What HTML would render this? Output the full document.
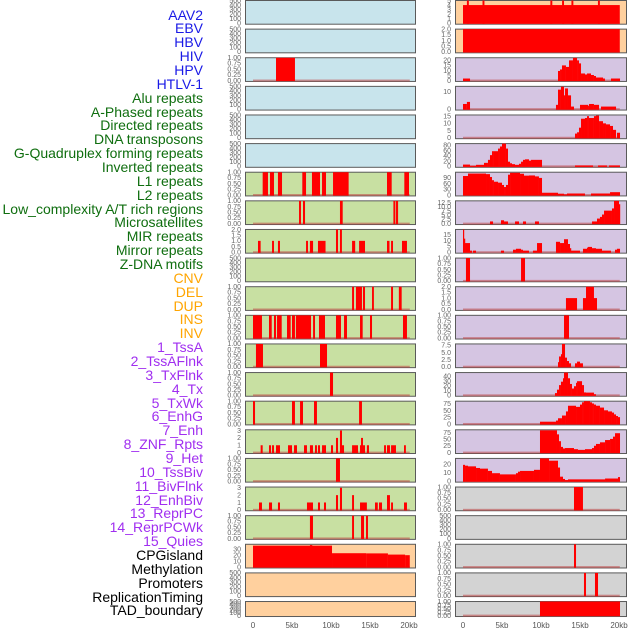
<!DOCTYPE html>
<html><head><meta charset="utf-8">
<style>
html,body{margin:0;padding:0;background:#fff;}
#wrap{position:relative;width:630px;height:630px;overflow:hidden;font-family:"Liberation Sans",sans-serif;}
.lbl{position:absolute;right:427px;font-size:14px;line-height:14px;white-space:nowrap;}
svg{position:absolute;left:0;top:0;}
</style></head>
<body>
<div id="wrap">
<svg id="chart" width="630" height="630"></svg>
</div>
<script>
// ---- track labels ----
const labelNames = ["AAV2","EBV","HBV","HIV","HPV","HTLV-1","Alu repeats","A-Phased repeats","Directed repeats","DNA transposons","G-Quadruplex forming repeats","Inverted repeats","L1 repeats","L2 repeats","Low_complexity A/T rich regions","Microsatellites","MIR repeats","Mirror repeats","Z-DNA motifs","CNV","DEL","DUP","INS","INV","1_TssA","2_TssAFlnk","3_TxFlnk","4_Tx","5_TxWk","6_EnhG","7_Enh","8_ZNF_Rpts","9_Het","10_TssBiv","11_BivFlnk","12_EnhBiv","13_ReprPC","14_ReprPCWk","15_Quies","CPGisland","Methylation","Promoters","ReplicationTiming","TAD_boundary"];
const labelGroups = [6,13,5,15,5];
const groupColors = ["#1a1ae6","#0f6e0f","#ffa500","#a02ef0","#000000"];

// ---- x axis ----
const xTicks = [0,5,10,15,20];
const xTickLabels = ["0","5kb","10kb","15kb","20kb"];

// ---- tick sets ----
const tEmpty = [0,100,200,300,400,500];
const tBin = [0,0.25,0.5,0.75,1];
const tBinLbl = ["0.00","0.25","0.50","0.75","1.00"];
const tTwo = [0,0.5,1,1.5,2];
const tTwoLbl = ["0.0","0.5","1.0","1.5","2.0"];
const tThree = [0,1,2,3];
const tCpg = [0,10,20,30];

// ---- left column data: [startKb, endKb, value] ----
const L2 = [[2.95,5.38,1]];
const L6 = [[1.24,1.92,1],[2.18,2.69,1],[3.2,3.72,1],[6.32,6.8,1],[7.56,8.59,1],[8.85,9.36,1],[10.26,12.26,1],[17.18,17.78,1],[19.4,20,1]];
const L7 = [[5.9,6.15,1],[6.41,6.67,1],[11.15,11.5,1],[18.0,18.25,1],[18.33,18.6,1]];
const L8 = [[0.64,0.98,1],[2.44,2.69,1],[3.2,3.46,1],[6.8,7.05,1],[7.3,7.7,1],[8.33,9.3,1],[10.64,10.9,2],[11.15,11.4,2],[12.7,13.1,1],[13.6,14.36,1],[17.18,17.5,1],[17.7,17.95,1],[19.1,19.74,1]];
const L10 = [[12.7,12.95,1],[13.2,13.97,1],[14.1,14.36,1],[15.26,15.5,1],[17.7,17.95,1],[18.7,19.06,1]];
const L11 = [[0,1.15,1],[2.05,2.4,1],[2.69,2.95,1],[3.08,3.68,1],[4.36,4.83,1],[5.0,5.38,1],[5.5,7.44,1],[7.7,7.95,1],[8.46,9.23,1],[10.64,11.28,1],[11.67,12.05,1],[13.72,14.06,1],[15,15.26,1],[19.23,19.74,1]];
const L12 = [[0.38,1.28,1],[8.59,9.49,1]];
const L13 = [[9.87,10.26,1]];
const L14 = [[0,0.26,1],[5.0,5.38,1],[6.03,6.41,1],[7.82,8.2,1],[13.6,13.97,1]];
const L15 = [[0.98,1.24,1],[2.05,2.31,1],[2.44,2.69,1],[2.95,3.46,1],[4.49,5.0,1],[5.26,5.64,1],[6.54,6.92,1],[7.3,7.69,1],[7.95,8.2,1],[8.33,8.59,1],[8.85,9.36,1],[10,10.26,1],[10.64,10.9,2],[11.15,11.41,3],[11.41,11.67,1],[12.7,13.46,1],[13.72,14.36,1],[13.85,14.1,2],[14.6,14.87,1],[16.8,17.05,1],[17.18,17.56,1],[17.7,18.33,1],[19.36,19.6,1]];
const L16 = [[10.64,11.15,1]];
const L17 = [[0.77,1.15,1],[2.05,2.44,1],[3.2,3.46,1],[6.92,7.69,1],[8.33,8.59,1],[9.1,9.36,1],[10.64,10.9,2],[11.15,11.41,3],[12.7,12.95,2],[13.72,14.6,1],[15.64,16.0,1],[16.15,16.54,1],[17.18,17.56,2],[17.7,17.95,1],[19.36,19.74,1]];
const L18 = [[7.3,7.69,1],[12.7,12.95,1],[13.85,14.23,1],[14.49,14.74,1]];
const L19 = [[0,10.13,36],[7.3,7.6,37],[10.13,14.5,23.3],[14.5,17.3,23],[17.3,19.5,21],[19.5,20.1,20]];

// ---- right column data ----
const R0 = [[0,20.1,4],[0.5,0.75,5],[2.5,2.75,5],[11.2,11.45,5],[12.7,12.95,5],[13.9,14.15,5],[17.3,17.55,5]];
const R1 = [[0,20.1,2]];
const R2 = [[0,0.9,2],[12.18,12.44,9.5],[12.44,12.69,11],[12.69,13.2,15],[13.2,13.59,13.5],[13.59,14.1,20],[14.1,14.62,22.5],[14.62,14.87,20],[14.87,15.13,17],[15.13,15.64,7],[15.64,15.9,6],[15.9,16.41,7],[16.41,16.79,5.5],[16.79,17.05,4.5],[17.05,17.95,3],[17.95,18.2,2],[18.97,20.13,2]];
const R3 = [[0,0.5,3],[0.5,0.9,4.2],[11.92,12.18,2.5],[12.18,12.56,11.3],[12.56,12.95,13],[12.95,13.08,8],[13.08,13.46,12],[13.46,13.85,8],[13.85,14.23,1.5],[15,16.03,2.5],[16.03,16.15,2],[16.15,16.79,3],[16.79,17.44,2.5],[17.69,19.62,1.5]];
const R4 = [[14.36,14.62,2.9],[14.62,14.87,3.8],[14.87,15.13,7],[15.13,15.64,13.2],[15.64,15.9,13.7],[15.9,16.15,15],[16.15,16.79,13.7],[16.79,17.05,15],[17.05,17.44,15.4],[17.44,17.95,11.5],[17.95,18.33,10],[18.33,18.85,9.3],[18.85,19.23,8.2],[19.23,19.62,5.5],[19.74,20.13,3.5]];
const R5 = [[0,0.9,7],[0.9,1.67,2.5],[1.67,2.69,6],[2.69,3.2,13.5],[3.2,3.46,25],[3.46,3.72,43],[3.72,3.97,58],[3.97,4.49,58],[4.49,4.74,68],[4.74,5.0,76],[5.0,5.51,87],[5.51,5.77,68],[5.77,6.03,18],[6.03,6.28,12],[6.28,6.67,8.6],[6.67,7.18,6],[7.18,7.44,10],[7.44,7.69,18],[7.69,7.95,25],[7.95,8.46,27],[8.46,8.72,22],[8.72,10.13,25],[14.36,16.67,3.7],[17.31,18.46,3.7],[18.72,20.13,3.7]];
const R6 = [[0,0.64,100],[0.64,2.95,113],[2.95,3.46,110],[3.46,3.72,95],[3.72,3.97,78],[3.97,4.49,70],[4.49,5.0,65],[5.0,5.26,53],[5.26,5.51,42],[5.51,5.77,53],[5.77,6.03,107],[6.03,7.31,117],[7.31,7.82,112],[7.82,8.46,102],[8.46,9.23,103],[9.23,9.74,98],[9.74,10.13,90],[10.13,12.18,12],[12.18,12.95,7],[12.95,13.33,3.5],[13.33,15.64,8],[16.41,18.85,8],[18.85,20.13,15]];
const R7 = [[3.46,3.85,1.3],[4.87,5.26,2],[5.26,5.77,1.3],[6.67,7.18,1.3],[7.69,8.08,1.3],[9.23,9.74,1.3],[16.54,17.18,1.3],[17.18,17.56,3],[17.56,17.82,4],[17.82,18.08,5.4],[18.08,19.1,7.7],[19.1,19.36,9],[19.36,20.0,13.5],[20.0,20.13,11.5]];
const R8 = [[0,0.13,19.6],[0.13,0.26,11.7],[0.26,0.9,7.9],[0.9,1.15,1.4],[1.28,1.67,1.4],[4.87,5.26,1.4],[6.41,6.79,2.2],[6.79,7.44,3],[7.44,7.69,2.2],[7.69,8.46,1.4],[8.97,9.49,1.4],[9.49,10.13,7.9],[11.92,12.44,9],[12.44,12.95,7.9],[12.95,13.46,11.2],[13.46,13.72,7.1],[13.72,13.85,3.5],[13.85,15.0,1.4],[15.38,15.9,3],[15.9,16.03,4],[16.03,16.54,4.6],[16.54,17.05,3.5],[17.05,17.82,3],[17.82,18.97,1.4],[19.49,19.74,2.2],[19.74,20.13,3]];
const R9 = [[0.38,0.9,1],[7.44,7.95,1]];
const R10 = [[13.2,14.62,1],[15.38,17.18,1],[15.77,16.79,2]];
const R11 = [[12.95,13.59,1]];
const R12 = [[12.18,12.31,1.6],[12.31,12.56,3.6],[12.56,12.69,4.4],[12.69,13.08,8],[13.08,13.33,3.2],[13.33,13.59,2],[13.59,13.85,1.2],[14.36,14.62,1.2],[14.62,15.0,1.8],[15.0,15.38,1.2]];
const R13 = [[11.79,12.05,4.8],[12.05,12.31,12],[12.31,12.56,21.6],[12.56,12.82,28.8],[12.82,12.95,36],[12.95,13.46,48],[13.46,13.72,36],[13.72,13.97,24],[13.97,14.23,14.4],[14.23,14.49,19.2],[14.49,14.62,26.4],[14.62,15.26,29.8],[15.26,15.51,21.6],[15.51,15.77,6.2],[15.77,16.79,5.8],[16.79,17.05,2.4]];
const R14 = [[9.87,11.92,8.5],[11.92,12.18,12.8],[12.18,12.69,21.3],[12.69,13.2,31.5],[13.2,13.46,46.8],[13.46,14.49,68],[14.49,15.0,63.8],[15.0,15.26,72.3],[15.26,15.51,80.8],[15.51,16.28,85],[16.28,16.54,80.8],[16.54,16.79,76.5],[16.79,17.05,72.3],[17.05,17.56,68],[17.56,18.08,61.2],[18.08,18.59,51],[18.59,19.1,46.8],[19.1,19.36,42.5],[19.36,19.62,35.7],[19.62,19.87,29.8],[19.87,20.13,25.5]];
const R15 = [[9.87,12.05,83],[12.05,12.31,68],[12.31,12.56,42.5],[12.56,12.82,21.3],[12.82,13.08,15.3],[13.08,14.23,17],[14.23,14.74,12.8],[14.74,15.64,10.2],[15.64,16.54,12.8],[16.54,16.79,17],[16.79,17.05,25.5],[17.05,17.56,32.3],[17.56,18.21,38.3],[18.21,18.85,46.8],[18.85,19.23,51],[19.23,19.49,59.5],[19.49,20.13,72.3]];
const R16 = [[0,0.26,19.4],[0.26,0.64,18.4],[0.64,1.67,17.6],[1.67,2.18,15.7],[2.18,3.2,14.9],[3.2,3.72,12.2],[3.72,4.74,9.5],[4.74,6.79,8.1],[6.79,7.05,9.5],[7.05,7.31,11.3],[7.31,9.1,12.2],[9.1,9.87,13.5],[9.87,11.03,27],[11.03,12.18,24.3],[12.18,12.44,16.2],[12.44,12.82,5.4],[12.82,13.08,2.7],[13.08,13.46,1.4],[13.46,18.21,2.2],[18.21,19.87,3.2],[19.87,20.13,4.9]];
const R17 = [[14.23,15.38,1]];
const R18 = [];
const R19 = [[14.23,14.49,1]];
const R20 = [[15.51,15.77,1],[16.92,17.31,1]];
const R21 = [[9.87,20.13,1]];

// ---- render ----
const NS = "http://www.w3.org/2000/svg";
const svg = document.getElementById('chart');
const wrap = document.getElementById('wrap');
const BLUE="#c8e4ec", GREEN="#c8e0a2", ORANGE="#ffd09e", PURPLE="#d5c5e2", GRAY="#d3d3d3";
const PITCH = 28.62;
const cols = [{left:245,width:171,x0:253},{left:455,width:172,x0:463}];
const KB = 7.8;
function xScale(c,kb){return cols[c].x0 + kb*KB;}
function el(tag,attrs){const e=document.createElementNS(NS,tag);for(const k in attrs)e.setAttribute(k,attrs[k]);return e;}

function panel(c,row,bg,data,yMax,ticks,tickLbls){
  const top=row*PITCH, h=(row===21?16:24.7);
  const base=top+h-1.4;
  const yS=v=>base-(v/yMax)*(base-top-0.5);
  const g=el('g',{});
  
  
  const rect=el('rect',{x:cols[c].left+0.5,y:top+0.5,width:cols[c].width-1,height:h-1,fill:bg,stroke:'#5a5a5a','stroke-width':1});
  
  
  g.appendChild(rect);
  if(data.length){
    const bl=el('rect',{x:xScale(c,0),y:base-1,width:xScale(c,20.1)-xScale(c,0),height:2,fill:'rgba(190,70,70,0.55)'});
    
    
    g.appendChild(bl);
  }
  data.forEach(d=>{
    const x1=xScale(c,d[0]), x2=xScale(c,d[1]), y=yS(d[2]);
    const b=el('rect',{x:x1,y:y,width:Math.max(1.2,x2-x1),height:base-y+0.5,fill:'#ff0000'});
    
    
    g.appendChild(b);
  });
  ticks.forEach((t,i)=>{
    const tx=el('text',{x:cols[c].left-4,y:yS(t)+2.3,'text-anchor':'end','font-size':'7px',fill:'#666','font-family':'Liberation Sans, sans-serif'});
    tx.textContent = tickLbls?tickLbls[i]:String(t);
    
    
    g.appendChild(tx);
  });
  svg.appendChild(g);
}

const leftSpec = [
 [BLUE,[],500,tEmpty],[BLUE,[],500,tEmpty],[BLUE,L2,1,tBin,tBinLbl],[BLUE,[],500,tEmpty],[BLUE,[],500,tEmpty],[BLUE,[],500,tEmpty],
 [GREEN,L6,1,tBin,tBinLbl],[GREEN,L7,1,tBin,tBinLbl],[GREEN,L8,2,tTwo,tTwoLbl],[GREEN,[],500,tEmpty],[GREEN,L10,1,tBin,tBinLbl],
 [GREEN,L11,1,tBin,tBinLbl],[GREEN,L12,1,tBin,tBinLbl],[GREEN,L13,1,tBin,tBinLbl],[GREEN,L14,1,tBin,tBinLbl],[GREEN,L15,3.1,tThree],
 [GREEN,L16,1,tBin,tBinLbl],[GREEN,L17,3.1,tThree],[GREEN,L18,1,tBin,tBinLbl],[ORANGE,L19,38.3,tCpg],[ORANGE,[],500,tEmpty],[ORANGE,[],500,tEmpty]
];
const rightSpec = [
 [ORANGE,R0,5,[0,1,2,3,4,5]],[ORANGE,R1,2,tTwo,tTwoLbl],[PURPLE,R2,22.6,[0,5,10,15,20]],[PURPLE,R3,13.2,[0,10]],[PURPLE,R4,15.8,[0,5,10,15]],
 [PURPLE,R5,87,[0,20,40,60,80]],[PURPLE,R6,120,[0,30,60,90]],[PURPLE,R7,13.5,[0,2.5,5,7.5,10,12.5],["0.0","2.5","5.0","7.5","10.0","12.5"]],
 [PURPLE,R8,19.6,[0,5,10,15]],[PURPLE,R9,1,tBin,tBinLbl],[PURPLE,R10,2,tTwo,tTwoLbl],[PURPLE,R11,1,tBin,tBinLbl],
 [PURPLE,R12,8,[0,2.5,5,7.5],["0.0","2.5","5.0","7.5"]],[PURPLE,R13,48,[0,10,20,30,40]],[PURPLE,R14,85,[0,25,50,75]],[PURPLE,R15,85,[0,25,50,75]],
 [PURPLE,R16,27,[0,10,20]],[GRAY,R17,1,tBin,tBinLbl],[GRAY,R18,500,tEmpty],[GRAY,R19,1,tBin,tBinLbl],[GRAY,R20,1,tBin,tBinLbl],[GRAY,R21,1,tBin,tBinLbl]
];
leftSpec.forEach((s,i)=>panel(0,i,s[0],s[1],s[2],s[3],s[4]));
rightSpec.forEach((s,i)=>panel(1,i,s[0],s[1],s[2],s[3],s[4]));

// x axis labels
[0,1].forEach(c=>{
  xTicks.forEach((t,i)=>{
    const tx=el('text',{x:xScale(c,t),y:628,'text-anchor':'middle','font-size':'8px',fill:'#555','font-family':'Liberation Sans, sans-serif'});
    tx.textContent=xTickLabels[i];
    
    
    svg.appendChild(tx);
  });
});

// labels
let idx=0;
labelGroups.forEach((n,gi)=>{
  for(let k=0;k<n;k++){
    const d=document.createElement('div');
    d.className='lbl';
    d.style.top=(15+idx*13.86-7.5)+'px';
    d.style.color=groupColors[gi];
    d.textContent=labelNames[idx];
    
    
    wrap.appendChild(d);
    idx++;
  }
});
</script>
</body></html>
